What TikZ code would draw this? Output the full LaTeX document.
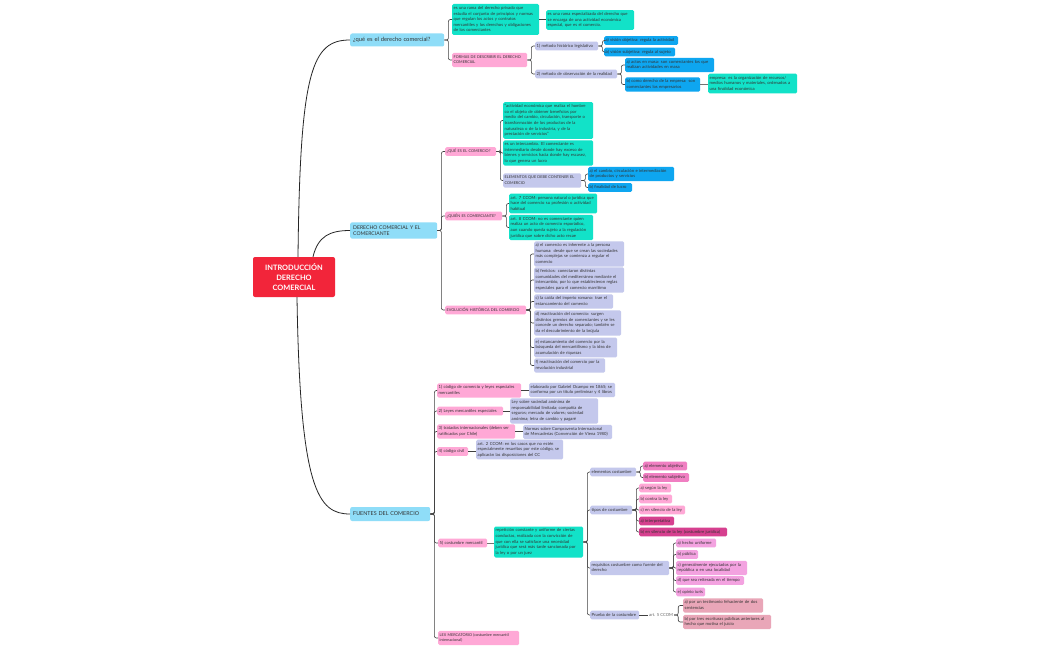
\documentclass[tikz,border=0pt]{standalone}
\usepackage{fontspec}
\setmainfont{Lato}
\definecolor{cteal}{HTML}{12E2C8}
\definecolor{cblue}{HTML}{0EA6F0}
\definecolor{clav}{HTML}{C4C8EC}
\definecolor{cpink}{HTML}{FFA8D6}
\definecolor{corch}{HTML}{F3A2E0}
\definecolor{cmpink}{HTML}{F07FC2}
\definecolor{cdpink}{HTML}{D6408F}
\definecolor{crose}{HTML}{E9A6B8}
\definecolor{clb}{HTML}{8FDDF8}
\definecolor{cred}{HTML}{F2253A}
\definecolor{ctxt}{HTML}{333333}
\tikzset{
  box/.style={rounded corners=1.5pt, inner sep=1.5pt, align=left, text=ctxt,
    font=\fontsize{4.2}{5.6}\selectfont, minimum height=8pt},
  caps/.style={font=\fontsize{3.8}{5.6}\selectfont},
  teal/.style={box, fill=cteal},
  blue/.style={box, fill=cblue},
  lav/.style={box, fill=clav},
  pnk/.style={box, fill=cpink},
  orch/.style={box, fill=corch},
  mpnk/.style={box, fill=cmpink},
  dpnk/.style={box, fill=cdpink},
  rose/.style={box, fill=crose},
  lone/.style={rounded corners=2pt, inner sep=3pt, fill=clb, text=ctxt, align=left,
    font=\fontsize{5.8}{6.8}\selectfont},
  conn/.style={draw=black!75, line width=0.6pt, rounded corners=2pt},
  single/.style={draw=black!55, line width=0.9pt},
  mainl/.style={draw=black!85, line width=0.8pt},
}
\newcommand\nd[6]{\pgfmathsetmacro\tw{#4-#3-3}\node[#1, anchor=west, text width=\tw pt] (#2) at (#3,#5) {\begin{tabular}{@{}l@{}}#6\end{tabular}};}
\newcommand\ch[2]{\draw[conn] (#1.east) -- ++(4,0) |- (#2.west);}
\newcommand\sg[2]{\draw[single] (#1.east) -- (#2.west |- #1.east);}
\begin{document}
\begin{tikzpicture}[x=1pt,y=-1pt]
\fill[white] (0,0) rectangle (1050,650);
\useasboundingbox (0,0) rectangle (1050,650);

% root
\node[fill=cred, rounded corners=2pt, minimum width=82pt, minimum height=40pt, text=white,
  align=center, font=\fontsize{7.4}{9.6}\selectfont\bfseries] (root) at (294,277)
  {INTRODUCCIÓN\\DERECHO\\COMERCIAL};

% level 1
\node[lone, anchor=west, text width=88pt, minimum height=13pt] (q1) at (350,40) {¿qué es el derecho comercial?};
\node[lone, anchor=west, text width=81pt, font=\fontsize{5.1}{6.6}\selectfont] (dc) at (350,230.5) {DERECHO COMERCIAL Y EL\\COMERCIANTE};
\node[lone, anchor=west, text width=74pt, minimum height=14pt, font=\fontsize{5.4}{6.6}\selectfont] (fu) at (350,514) {FUENTES DEL COMERCIO};

\draw[mainl] ([xshift=4pt]root.north) .. controls (300,70) and (312,40) .. (q1.west);
\draw[mainl] ([xshift=19pt]root.north) .. controls (318,236) and (330,230.5) .. (dc.west);
\draw[mainl] ([xshift=3pt]root.south) .. controls (300,490) and (318,514) .. (fu.west);

% branch 1
\nd{teal}{a1}{452}{539}{19.5}{es una rama del derecho privado que\\estudia el conjunto de principios y normas\\que regulan los actos y contratos\\mercantiles y los derechos y obligaciones\\de los comerciantes}
\nd{teal}{a1b}{546}{634}{20}{es una rama especializada del derecho que\\se encarga de una actividad económica\\especial, que es el comercio.}
\nd{pnk,caps}{a2}{452}{527}{60}{FORMAS DE DESCRIBIR EL DERECHO\\COMERCIAL}
\nd{lav}{a21}{535}{598}{46}{1) método histórico legislativo}
\nd{blue}{a211}{604}{678}{40.5}{a) visión objetiva: regula la actividad}
\nd{blue}{a212}{604}{675}{52}{b) visión subjetiva: regula al sujeto}
\nd{lav}{a22}{535}{617}{74}{2) método de observación de la realidad}
\nd{blue}{a221}{625}{714}{65}{a) actos en masa: son comerciantes los que\\realizan actividades en masa}
\nd{blue}{a222}{625}{700}{84.5}{b) como derecho de la empresa: son\\comerciantes los empresarios}
\nd{teal}{a2221}{708}{797}{83.5}{empresa: es la organización de recursos/\\medios humanos y materiales, ordenados a\\una finalidad económica}
\ch{q1}{a1}\ch{q1}{a2}
\draw[conn] (a1.east) -- (a1b.west |- a1.east);
\ch{a2}{a21}\ch{a2}{a22}
\ch{a21}{a211}\ch{a21}{a212}
\ch{a22}{a221}\ch{a22}{a222}
\sg{a222}{a2221}

% branch 2
\nd{pnk,caps}{b1}{445}{496}{151.5}{¿QUÉ ES EL COMERCIO?}
\nd{teal}{b11}{503}{593}{120.5}{“actividad económica que realiza el hombre\\co el objeto de obtener beneficios por\\medio del cambio, circulación, transporte o\\transformación de los productos de la\\naturaleza o de la industria, y de la\\prestación de servicios”}
\nd{teal}{b12}{503}{593}{153}{es un intercambio. El comerciante es\\intermediario desde donde hay exceso de\\bienes y servicios hacia donde hay escasez,\\lo que genera un lucro}
\nd{lav,caps}{b13}{503}{581}{180.5}{ELEMENTOS QUE DEBE CONTENER EL\\COMERCIO}
\nd{blue}{b131}{588}{674}{174}{a) el cambio, circulación e intermediación\\de productos y servicios}
\nd{blue}{b132}{588}{632}{187.5}{b) finalidad de lucro}
\nd{pnk,caps}{b2}{445}{502}{216}{¿QUIÉN ES COMERCIANTE?}
\nd{teal}{b21}{509}{597}{203.5}{art. 7 CCOM: persona natural o jurídica que\\hace del comercio su profesión o actividad\\habitual}
\nd{teal}{b22}{509}{593}{227.5}{art. 8 CCOM: no es comerciante quien\\realiza un acto de comercio esporádico,\\aun cuando queda sujeto a la regulación\\jurídica que sobre dicho acto recae}
\nd{pnk,caps}{b3}{445}{526}{310}{EVOLUCIÓN HISTÓRICA DEL COMERCIO}
\nd{lav}{b31}{534}{624}{254}{a) el comercio es inherente a la persona\\humana: desde que se crean las sociedades\\más complejas se comienza a regular el\\comercio}
\nd{lav}{b32}{534}{624}{280}{b) fenicios: conectaron distintas\\comunidades del mediterráneo mediante el\\intercambio, por lo que establecieron reglas\\especiales para el comercio marrítimo}
\nd{lav}{b33}{534}{613}{301.5}{c) la caída del imperio romano: trae el\\estancamiento del comercio}
\nd{lav}{b34}{534}{621}{323}{d) reactivación del comercio: surgen\\distintos gremios de comerciantes y se les\\concede un derecho separado; también se\\da el descubrimiento de la brújula}
\nd{lav}{b35}{534}{617}{347.5}{e) estancamiento del comercio por la\\búsqueda del mercantilismo y la idea de\\acumulación de riquezas}
\nd{lav}{b36}{534}{605}{365.5}{f) reactivación del comercio por la\\revolución industrial}
\ch{dc}{b1}\ch{dc}{b2}\ch{dc}{b3}
\ch{b1}{b11}\ch{b1}{b12}\ch{b1}{b13}
\ch{b13}{b131}\ch{b13}{b132}
\ch{b2}{b21}\ch{b2}{b22}
\ch{b3}{b31}\ch{b3}{b32}\ch{b3}{b33}\ch{b3}{b34}\ch{b3}{b35}\ch{b3}{b36}

% branch 3
\nd{pnk}{c1}{437}{521}{390.5}{1) código de comercio y leyes especiales\\mercantiles}
\nd{lav}{c11}{529}{615}{390}{elaborado por Gabriel Ocampo en 1865; se\\conforma por un título preliminar y 4 libros}
\nd{pnk}{c2}{437}{503}{411}{2) Leyes mercantiles especiales}
\nd{lav}{c21}{510}{598}{411}{Ley sobre sociedad anónima de\\responsabilidad limitada; compañía de\\seguros; mercado de valores; sociedad\\anónima; letra de cambio y pagaré}
\nd{pnk}{c3}{437}{515}{431.5}{3) tratados internacionales (deben ser\\ratificados por Chile)}
\nd{lav}{c31}{523}{612}{432}{Normas sobre Compraventa Internacional\\de Mercaderías (Convención de Viena 1980)}
\nd{pnk}{c4}{437}{468}{451.5}{4) código civil}
\nd{lav}{c41}{476}{563}{449.5}{art. 2 CCOM: en los casos que no estén\\especialmente resueltos por este código, se\\aplicarán las disposiciones del CC}
\nd{pnk}{c5}{438}{487}{543}{5) costumbre mercantil}
\nd{teal}{c51}{494}{583}{542}{repetición constante y uniforme de ciertas\\conductas, realizada con la convicción de\\que con ella se satisface una necesidad\\jurídica que será más tarde sancionada por\\la ley o por un juez}
\nd{lav}{c511}{590}{636}{472}{elementos costumbre}
\nd{mpnk}{c5111}{643}{687}{466}{a) elemento objetivo}
\nd{mpnk}{c5112}{643}{689}{477.5}{b) elemento subjetivo}
\nd{lav}{c512}{590}{632}{510}{tipos de costumbre}
\nd{pnk}{c5121}{639}{671}{488}{a) según la ley}
\nd{pnk}{c5122}{639}{672}{499}{b) contra la ley}
\nd{pnk}{c5123}{639}{685}{510}{c) en silencio de la ley}
\nd{dpnk}{c5124}{639}{674}{521}{a) interpretativa}
\nd{dpnk}{c5125}{639}{727}{532}{b) en silencio de la ley (costumbre jurídica)}
\nd{lav}{c513}{590}{669}{568}{requisitos costumbre como fuente del\\derecho}
\nd{orch}{c5131}{676}{716}{543}{a) hecho uniforme}
\nd{orch}{c5132}{676}{698}{554.5}{b) pública}
\nd{orch}{c5133}{676}{747}{568}{c) generalmente ejecutados por la\\república o en una localidad}
\nd{orch}{c5134}{676}{744}{580.5}{d) que sea reiterada en el tiempo}
\nd{orch}{c5135}{676}{705}{592}{e) opinio iuris}
\nd{lav}{c514}{590}{639}{615}{Prueba de la costumbre}
\node[anchor=west, inner sep=1pt, text=black!60, font=\fontsize{4.2}{5.3}\selectfont] (art5) at (648,615) {art. 5 CCOM};
\nd{rose}{c5141}{683}{763}{605.5}{a) por un testimonio fehaciente de dos\\sentencias}
\nd{rose}{c5142}{683}{771}{622}{b) por tres escrituras públicas anteriores al\\hecho que motiva el juicio}
\nd{pnk,caps}{c6}{438}{519}{638}{LEX MERCATORIO (costumbre mercantil\\internacional)}

\ch{fu}{c1}\ch{fu}{c2}\ch{fu}{c3}\ch{fu}{c4}\ch{fu}{c5}\ch{fu}{c6}
\draw[conn] (c1.east) -- (c11.west |- c1.east);
\draw[conn] (c2.east) -- (c21.west |- c2.east);
\draw[conn] (c3.east) -- (c31.west |- c3.east);
\draw[conn] (c4.east) -- (c41.west |- c4.east);
\sg{c5}{c51}
\ch{c51}{c511}\ch{c51}{c512}\ch{c51}{c513}\ch{c51}{c514}
\ch{c511}{c5111}\ch{c511}{c5112}
\ch{c512}{c5121}\ch{c512}{c5122}\ch{c512}{c5123}\ch{c512}{c5124}\ch{c512}{c5125}
\ch{c513}{c5131}\ch{c513}{c5132}\ch{c513}{c5133}\ch{c513}{c5134}\ch{c513}{c5135}
\draw[conn] (c514.east) -- (art5.west);
\ch{art5}{c5141}\ch{art5}{c5142}
\end{tikzpicture}
\end{document}
